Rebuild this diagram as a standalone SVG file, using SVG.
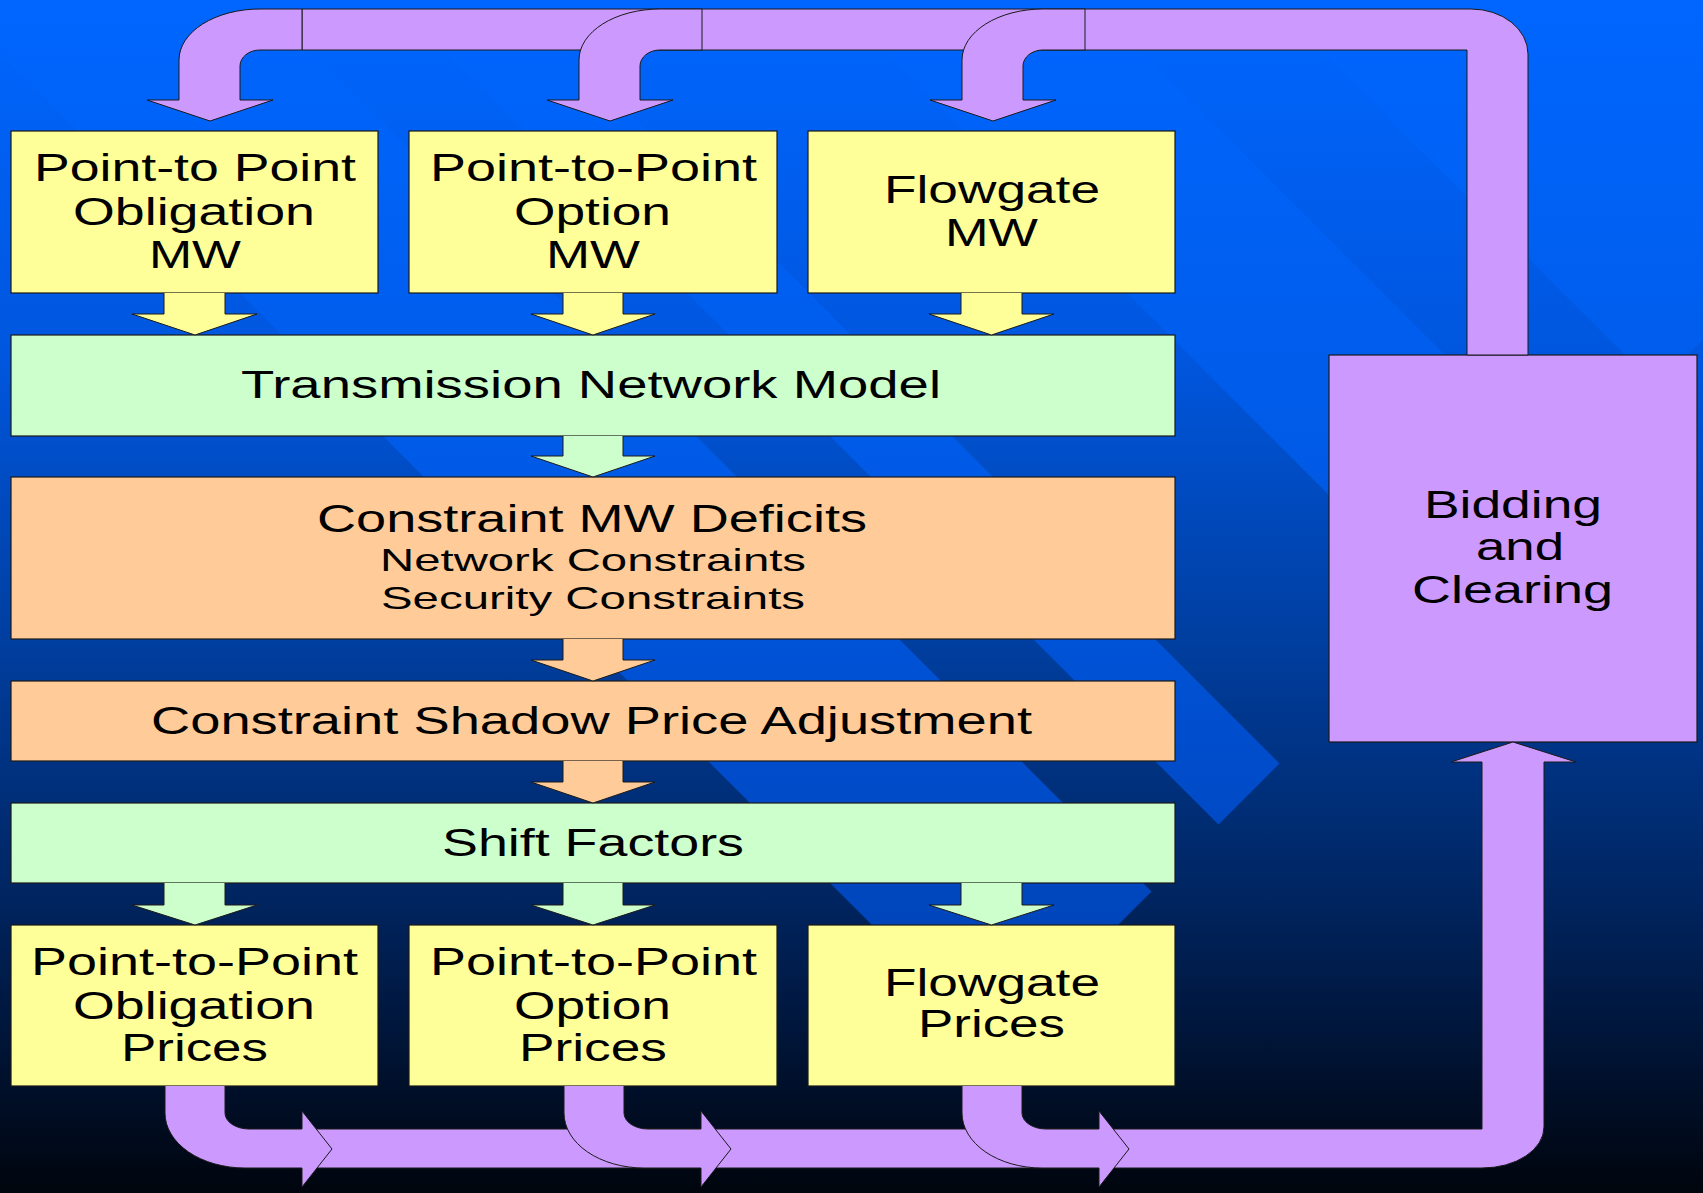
<svg xmlns="http://www.w3.org/2000/svg" width="1703" height="1193" viewBox="0 0 1703 1193">
<defs>
<linearGradient id="bg" x1="0" y1="0" x2="0" y2="1">
<stop offset="0" stop-color="#0066ff"/>
<stop offset="0.3" stop-color="#0056de"/>
<stop offset="0.55" stop-color="#003d9c"/>
<stop offset="0.75" stop-color="#002561"/>
<stop offset="0.9" stop-color="#00112e"/>
<stop offset="1" stop-color="#00050d"/>
</linearGradient>
<linearGradient id="stripe" gradientUnits="userSpaceOnUse" x1="0" y1="0" x2="0" y2="1193">
<stop offset="0" stop-color="#0066ff"/>
<stop offset="0.4" stop-color="#005ae6"/>
<stop offset="0.7" stop-color="#0049c4"/>
<stop offset="1" stop-color="#003a9e"/>
</linearGradient>
<style>
.box{stroke:#1a1a1a;stroke-width:1.2}
.y{fill:#ffff99}.g{fill:#ccffcc}.o{fill:#ffcc99}.p{fill:#cc99ff}
.t{font-family:"Liberation Sans",Arial,sans-serif;font-size:38px;fill:#000;text-anchor:middle}
.s{font-size:32px}
.ar{stroke:#1a1a1a;stroke-width:1}
</style>
</defs>
<rect x="0" y="0" width="1703" height="1193" fill="url(#bg)"/>
<g id="background-stripes" fill="url(#stripe)">
<polygon points="-63,-10 250,-10 1151.5,891.5 995,1048"/>
<polygon points="384,-10 506,-10 1279.5,763.5 1218.5,824.5"/>
<polygon points="824,-10 1080,-10 1566.5,476.5 1438.5,604.5"/>
<polygon points="1260,-10 1713,-10 1713,330 1656.5,386.5"/>
</g>

<g id="nodes">
<g id="ptp-obligation-mw"><rect class="box y" x="11" y="131" width="367" height="162"/>
<text class="t" x="195" y="181" textLength="322" lengthAdjust="spacingAndGlyphs">Point-to Point</text>
<text class="t" x="194" y="225" textLength="242" lengthAdjust="spacingAndGlyphs">Obligation</text>
<text class="t" x="195" y="268" textLength="92" lengthAdjust="spacingAndGlyphs">MW</text></g>
<g id="ptp-option-mw"><rect class="box y" x="409" y="131" width="368" height="162"/>
<text class="t" x="593.5" y="181" textLength="327" lengthAdjust="spacingAndGlyphs">Point-to-Point</text>
<text class="t" x="592.5" y="225" textLength="157" lengthAdjust="spacingAndGlyphs">Option</text>
<text class="t" x="593" y="268" textLength="94" lengthAdjust="spacingAndGlyphs">MW</text></g>
<g id="flowgate-mw"><rect class="box y" x="808" y="131" width="367" height="162"/>
<text class="t" x="992" y="203" textLength="216" lengthAdjust="spacingAndGlyphs">Flowgate</text>
<text class="t" x="991.5" y="246" textLength="93" lengthAdjust="spacingAndGlyphs">MW</text></g>
<g id="transmission-network-model"><rect class="box g" x="11" y="335" width="1164" height="101"/>
<text class="t" x="591" y="398" textLength="700" lengthAdjust="spacingAndGlyphs">Transmission Network Model</text></g>
<g id="constraint-mw-deficits"><rect class="box o" x="11" y="477" width="1164" height="162"/>
<text class="t" x="592" y="532" textLength="550" lengthAdjust="spacingAndGlyphs">Constraint MW Deficits</text>
<text class="t s" x="593" y="571" textLength="426" lengthAdjust="spacingAndGlyphs">Network Constraints</text>
<text class="t s" x="593" y="609" textLength="424" lengthAdjust="spacingAndGlyphs">Security Constraints</text></g>
<g id="constraint-shadow-price-adjustment"><rect class="box o" x="11" y="681" width="1164" height="80"/>
<text class="t" x="591.5" y="734" textLength="881" lengthAdjust="spacingAndGlyphs">Constraint Shadow Price Adjustment</text></g>
<g id="shift-factors"><rect class="box g" x="11" y="803" width="1164" height="80"/>
<text class="t" x="593" y="856" textLength="302" lengthAdjust="spacingAndGlyphs">Shift Factors</text></g>
<g id="ptp-obligation-prices"><rect class="box y" x="11" y="925" width="367" height="161"/>
<text class="t" x="194.5" y="975" textLength="327" lengthAdjust="spacingAndGlyphs">Point-to-Point</text>
<text class="t" x="194" y="1019" textLength="242" lengthAdjust="spacingAndGlyphs">Obligation</text>
<text class="t" x="194.5" y="1061" textLength="147" lengthAdjust="spacingAndGlyphs">Prices</text></g>
<g id="ptp-option-prices"><rect class="box y" x="409" y="925" width="368" height="161"/>
<text class="t" x="593.5" y="975" textLength="327" lengthAdjust="spacingAndGlyphs">Point-to-Point</text>
<text class="t" x="592.5" y="1019" textLength="157" lengthAdjust="spacingAndGlyphs">Option</text>
<text class="t" x="593" y="1061" textLength="148" lengthAdjust="spacingAndGlyphs">Prices</text></g>
<g id="flowgate-prices"><rect class="box y" x="808" y="925" width="367" height="161"/>
<text class="t" x="992" y="996" textLength="216" lengthAdjust="spacingAndGlyphs">Flowgate</text>
<text class="t" x="991.5" y="1037" textLength="147" lengthAdjust="spacingAndGlyphs">Prices</text></g>
<g id="bidding-and-clearing"><rect class="box p" x="1329" y="355" width="368" height="387"/>
<text class="t" x="1513" y="518" textLength="178" lengthAdjust="spacingAndGlyphs">Bidding</text>
<text class="t" x="1520" y="560" textLength="88" lengthAdjust="spacingAndGlyphs">and</text>
<text class="t" x="1512.5" y="603" textLength="201" lengthAdjust="spacingAndGlyphs">Clearing</text></g>
</g>

<g id="connectors">
<!-- feedback loop bands -->
<path class="ar p" d="M302,9 L1471,9 A57,45 0 0 1 1528,54 L1528,355 L1467,355 L1467,50 L302,50 Z"/>
<path class="ar p" d="M300,1129 L1482,1129 L1482,762 L1451,762 L1513,742 L1576,762 L1544,762 L1544,1127 A62,41 0 0 1 1482,1168 L300,1168 Z"/>
<!-- top bent arrows into MW boxes -->
<path class="ar p" d="M302,9 L260,9 A81,51 0 0 0 179,60 L179,100 L147,100 L210,121 L273,100 L240,100 L240,66 A20,16 0 0 1 260,50 L302,50 Z"/>
<path class="ar p" d="M702,9 L660,9 A81,51 0 0 0 579,60 L579,100 L547,100 L610,121 L673,100 L640,100 L640,66 A20,16 0 0 1 660,50 L702,50 Z"/>
<path class="ar p" d="M1085,9 L1043,9 A81,51 0 0 0 962,60 L962,100 L930,100 L993,121 L1056,100 L1023,100 L1023,66 A20,16 0 0 1 1043,50 L1085,50 Z"/>
<!-- bottom bent arrows from price boxes -->
<path class="ar p" d="M165,1086 L165,1113 A80,55 0 0 0 245,1168 L302,1168 L302,1187 L332,1149 L302,1111 L302,1129 L249,1129 A24,16 0 0 1 225,1113 L225,1086"/>
<path class="ar p" d="M564,1086 L564,1113 A80,55 0 0 0 644,1168 L701,1168 L701,1187 L731,1149 L701,1111 L701,1129 L648,1129 A24,16 0 0 1 624,1113 L624,1086"/>
<path class="ar p" d="M962,1086 L962,1113 A80,55 0 0 0 1042,1168 L1099,1168 L1099,1187 L1129,1149 L1099,1111 L1099,1129 L1046,1129 A24,16 0 0 1 1022,1113 L1022,1086"/>
<!-- MW boxes to Transmission Network Model -->
<path class="ar y" d="M164,293 L164,314 L132,314 L195,335 L257,314 L225,314 L225,293"/>
<path class="ar y" d="M563,293 L563,314 L531,314 L593,335 L655,314 L623,314 L623,293"/>
<path class="ar y" d="M961,293 L961,314 L929,314 L991.5,335 L1054,314 L1022,314 L1022,293"/>
<!-- vertical chain -->
<path class="ar g" d="M563,436 L563,456 L531,456 L593,477 L655,456 L623,456 L623,436"/>
<path class="ar o" d="M563,639 L563,660 L531,660 L593,681 L655,660 L623,660 L623,639"/>
<path class="ar o" d="M563,761 L563,782 L531,782 L593,803 L655,782 L623,782 L623,761"/>
<!-- Shift Factors to price boxes -->
<path class="ar g" d="M164,883 L164,905 L132,905 L195,925 L257,905 L225,905 L225,883"/>
<path class="ar g" d="M563,883 L563,905 L531,905 L593,925 L655,905 L623,905 L623,883"/>
<path class="ar g" d="M961,883 L961,905 L929,905 L991.5,925 L1054,905 L1022,905 L1022,883"/>
</g>
</svg>
